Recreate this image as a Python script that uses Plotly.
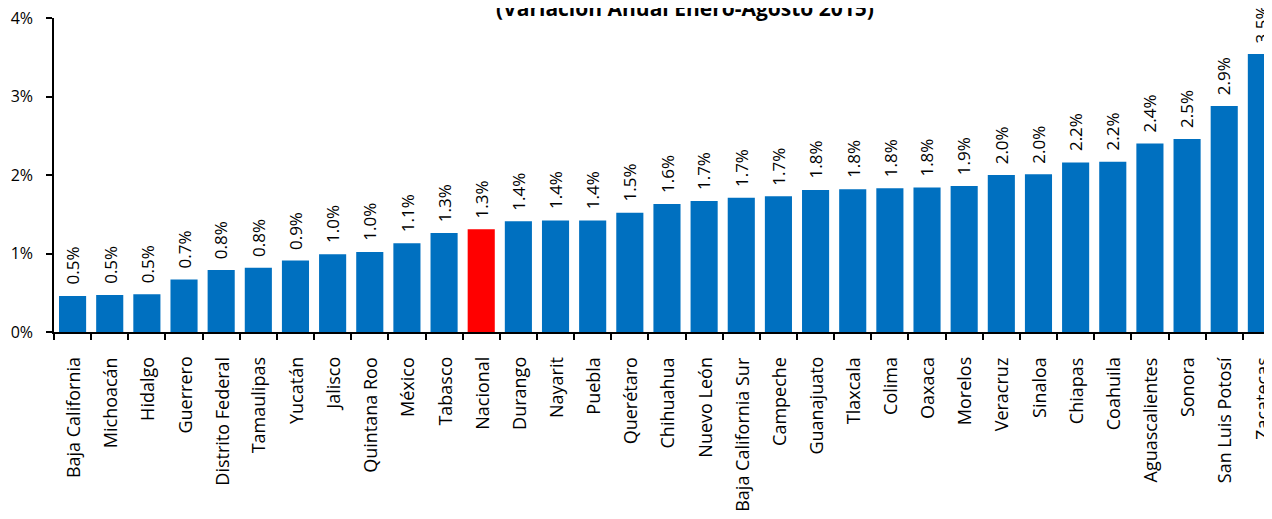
import plotly.graph_objects as go

estados = ["Baja California", "Michoacán", "Hidalgo", "Guerrero", "Distrito Federal",
           "Tamaulipas", "Yucatán", "Jalisco", "Quintana Roo", "México", "Tabasco",
           "Nacional", "Durango", "Nayarit", "Puebla", "Querétaro", "Chihuahua",
           "Nuevo León", "Baja California Sur", "Campeche", "Guanajuato", "Tlaxcala",
           "Colima", "Oaxaca", "Morelos", "Veracruz", "Sinaloa", "Chiapas", "Coahuila",
           "Aguascalientes", "Sonora", "San Luis Potosí", "Zacatecas"]

variacion = [0.46, 0.47, 0.48, 0.67, 0.79, 0.82, 0.91, 0.99, 1.02, 1.13, 1.26,
             1.31, 1.41, 1.42, 1.42, 1.52, 1.63, 1.67, 1.71, 1.73, 1.81, 1.82,
             1.83, 1.84, 1.86, 2.00, 2.01, 2.16, 2.17, 2.40, 2.46, 2.88, 3.54]

y_ticks = [0, 1, 2, 3, 4]
y_ticklabels = ["0%", "1%", "2%", "3%", "4%"]

titulo = "(Variación Anual Enero-Agosto 2015)"

BLUE = "#0070C0"
RED = "#FF0000"
FONT = "Open Sans"

colors = [RED if e == "Nacional" else BLUE for e in estados]
labels = [f"{v:.1f}%" for v in variacion]

fig = go.Figure(go.Bar(
    x=estados, y=variacion,
    marker=dict(color=colors, line=dict(width=0)),
    hoverinfo="x+y",
))

# page body has an 8px default margin, so the figure is offset by 8px
W, H = 1264, 511
L, R, T, B = 46, 0, 10, 187
plot_h = H - T - B
cat_px = 37.15
span = (W - L - R) / cat_px

annotations = [dict(
    text="<b>" + titulo + "</b>", xref="paper", yref="paper",
    x=0.518, y=1.031, xanchor="center", yanchor="middle",
    showarrow=False, font=dict(family=FONT, size=21, color="black"),
)]

# value labels above bars
for e, v, t in zip(estados, variacion, labels):
    annotations.append(dict(
        text=t, xref="x", yref="y", x=e, y=v,
        xanchor="center", yanchor="bottom", yshift=9, textangle=-90,
        showarrow=False, font=dict(family=FONT, size=17, color="black"),
    ))

# category labels below the axis
label_top = -(347 - (T + plot_h)) / plot_h
for e in estados:
    annotations.append(dict(
        text=e, xref="x", yref="paper", x=e, y=label_top,
        xanchor="center", yanchor="top", textangle=-90,
        showarrow=False, font=dict(family=FONT, size=18, color="black"),
    ))

fig.update_layout(
    width=W, height=H,
    margin=dict(l=L, r=R, t=T, b=B, autoexpand=False),
    paper_bgcolor="white", plot_bgcolor="white",
    bargap=0.27, showlegend=False,
    font=dict(family=FONT, color="black"),
    annotations=annotations,
)

fig.update_xaxes(
    type="category", range=[-0.5, -0.5 + span], automargin=False,
    showline=True, linecolor="black", linewidth=1.5,
    ticks="outside", tickson="boundaries", ticklen=6, tickcolor="black", tickwidth=1.5,
    showticklabels=False,
    showgrid=False, zeroline=False,
)
fig.update_yaxes(
    range=[0, 4], tickvals=y_ticks, ticktext=y_ticklabels, automargin=False,
    showline=True, linecolor="black", linewidth=1.5,
    ticks="outside", ticklen=6, tickcolor="black", tickwidth=1.5,
    tickfont=dict(family=FONT, size=16, color="black"),
    ticklabelstandoff=10, ticklabeloverflow="allow",
    showgrid=False, zeroline=False,
)

fig.write_html("out.html")
